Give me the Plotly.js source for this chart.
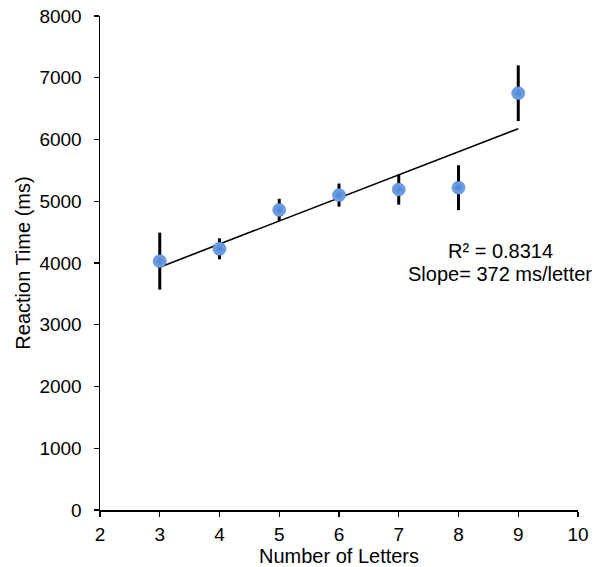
<!DOCTYPE html>
<html>
<head>
<meta charset="utf-8">
<script src="https://cdn.plot.ly/plotly-3.0.1.min.js"></script>
<style>html,body{margin:0;padding:0;background:#fff;}#chart{width:603px;height:567px;}</style>
</head>
<body>
<div id="chart"></div>
<script>
const letters = [3, 4, 5, 6, 7, 8, 9];
const rtMean = [4030, 4230, 4860, 5100, 5190, 5220, 6750];
const rtErr = [462, 170, 180, 187, 245, 364, 451];
const xTicks = [2, 3, 4, 5, 6, 7, 8, 9, 10];
const yTicks = [0, 1000, 2000, 3000, 4000, 5000, 6000, 7000, 8000];
const statLines = ['R² = 0.8314', 'Slope= 372 ms/letter'];

// least-squares trend line through the means
const n = letters.length;
const mx = letters.reduce((a, b) => a + b, 0) / n;
const my = rtMean.reduce((a, b) => a + b, 0) / n;
let sxy = 0, sxx = 0;
for (let i = 0; i < n; i++) { sxy += (letters[i] - mx) * (rtMean[i] - my); sxx += (letters[i] - mx) ** 2; }
const slope = sxy / sxx;
const icpt = my - slope * mx;
const trendX = [letters[0], letters[n - 1]];
const trendY = trendX.map(x => icpt + slope * x);

const fam = 'Liberation Sans, Arial, Helvetica, sans-serif';
const tickFont = {family: fam, size: 19, color: '#000'};
const titleFont = {family: fam, size: 20, color: '#000'};
const annFont = {family: fam, size: 20, color: '#000'};

const traces = [
  {x: trendX, y: trendY, mode: 'lines', line: {color: '#000', width: 1.6}, hoverinfo: 'skip', showlegend: false},
  {x: letters, y: rtMean, mode: 'markers', type: 'scatter',
   error_y: {type: 'data', array: rtErr, visible: true, color: '#000', thickness: 3, width: 0},
   marker: {size: 13, color: '#74a6ec', gradient: {type: 'radial', color: '#4f84d0'},
            line: {color: '#4a7bc2', width: 0.6}}, showlegend: false}
];

const layout = {
  width: 603, height: 567,
  margin: {l: 100, r: 25, t: 16, b: 57},
  paper_bgcolor: '#fff', plot_bgcolor: '#fff',
  font: tickFont,
  showlegend: false,
  xaxis: {range: [2, 10], tickvals: xTicks, ticktext: xTicks.map(String), showgrid: false, zeroline: false,
    showline: true, linecolor: '#000', linewidth: 1.5, ticks: 'outside', ticklen: 5, tickwidth: 1.2, tickcolor: '#000',
    tickfont: tickFont, automargin: false, ticklabelstandoff: 2,
    title: {text: 'Number of Letters', font: titleFont, standoff: 4}},
  yaxis: {range: [0, 8000], tickvals: yTicks, ticktext: yTicks.map(String), showgrid: false, zeroline: false,
    showline: true, linecolor: '#000', linewidth: 1.5, ticks: 'outside', ticklen: 5, tickwidth: 1.2, tickcolor: '#000',
    tickfont: tickFont, automargin: false, ticklabelstandoff: 8,
    title: {text: 'Reaction Time (ms)', font: titleFont, standoff: 3}},
  annotations: [
    {x: 8.7, y: 4190, xref: 'x', yref: 'y', text: statLines[0], showarrow: false, font: annFont, xanchor: 'center', yanchor: 'middle'},
    {x: 8.7, y: 3820, xref: 'x', yref: 'y', text: statLines[1], showarrow: false, font: annFont, xanchor: 'center', yanchor: 'middle'}
  ]
};

Plotly.newPlot('chart', traces, layout, {displayModeBar: false, staticPlot: true});
</script>
</body>
</html>
